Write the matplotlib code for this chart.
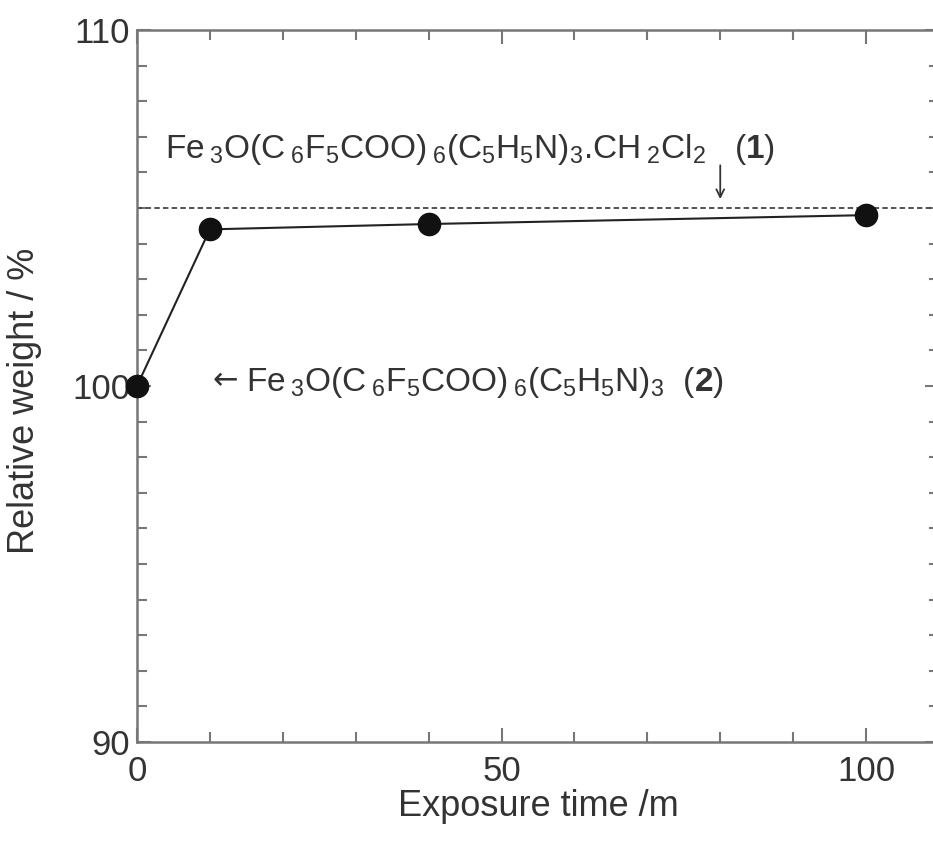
import matplotlib
matplotlib.use("Agg")
import matplotlib.pyplot as plt
from matplotlib.ticker import MultipleLocator

plt.rcParams['font.family'] = ['Liberation Sans', 'DejaVu Sans']
plt.rcParams['mathtext.fontset'] = 'custom'
plt.rcParams['mathtext.rm'] = 'Liberation Sans'
plt.rcParams['mathtext.bf'] = 'Liberation Sans:bold'

# exposure time (m) vs relative weight (%)
time_m = [0, 10, 40, 100]
weight = [100.0, 104.4, 104.55, 104.8]
solvate_level = 105.0

text_col = "#333333"
axis_col = "#777777"

fig = plt.figure(figsize=(9.33, 8.43), dpi=100)
ax = fig.add_axes([0.1468, 0.1198, 0.8596, 0.8446])

ax.axhline(solvate_level, color="#444444", lw=1.3, ls=(0, (3, 1.8)))
ax.plot(time_m, weight, color="#222222", lw=1.5, marker="o",
        markersize=16, markerfacecolor="#111111", markeredgecolor="#111111",
        clip_on=False, zorder=3)

ax.set_xlim(0, 110)
ax.set_ylim(90, 110)
ax.xaxis.set_major_locator(MultipleLocator(50))
ax.xaxis.set_minor_locator(MultipleLocator(10))
ax.yaxis.set_major_locator(MultipleLocator(10))
ax.yaxis.set_minor_locator(MultipleLocator(1))
ax.tick_params(which="both", direction="in", top=True, right=True,
               colors=axis_col, labelcolor=text_col, labelsize=25, width=1.5)
ax.tick_params(which="major", length=10)
ax.tick_params(which="minor", length=7)
ax.tick_params(axis="x", pad=9)
ax.tick_params(axis="y", pad=5)
for s in ax.spines.values():
    s.set_color(axis_col)
    s.set_linewidth(1.8)

ax.set_xlabel("Exposure time /m", fontsize=26, color=text_col, labelpad=1)
ax.set_ylabel("Relative weight / %", fontsize=26, color=text_col)
ax.yaxis.set_label_coords(-0.118, 0.479)

ax.text(3.8, 106.65,
        r"Fe$\,_3$O(C$\,_6$F$_5$COO)$\,_6$(C$_5$H$_5$N)$_3$.CH$\,_2$Cl$_2$   ($\mathbf{1}$)",
        fontsize=24, color=text_col, va="center", ha="left")
ax.annotate("", xy=(80, 105.25), xytext=(80, 106.2),
            arrowprops=dict(arrowstyle="->", color=text_col, lw=1.3,
                            mutation_scale=14, shrinkA=0, shrinkB=0))
ax.text(10.3, 100.15, "\u2190", family="DejaVu Sans", fontsize=22,
        color=text_col, va="center", ha="left")
ax.text(15.0, 100.1,
        r"Fe$\,_3$O(C$\,_6$F$_5$COO)$\,_6$(C$_5$H$_5$N)$_3$  ($\mathbf{2}$)",
        fontsize=24, color=text_col, va="center", ha="left")

fig.savefig("out.png", dpi=100)
